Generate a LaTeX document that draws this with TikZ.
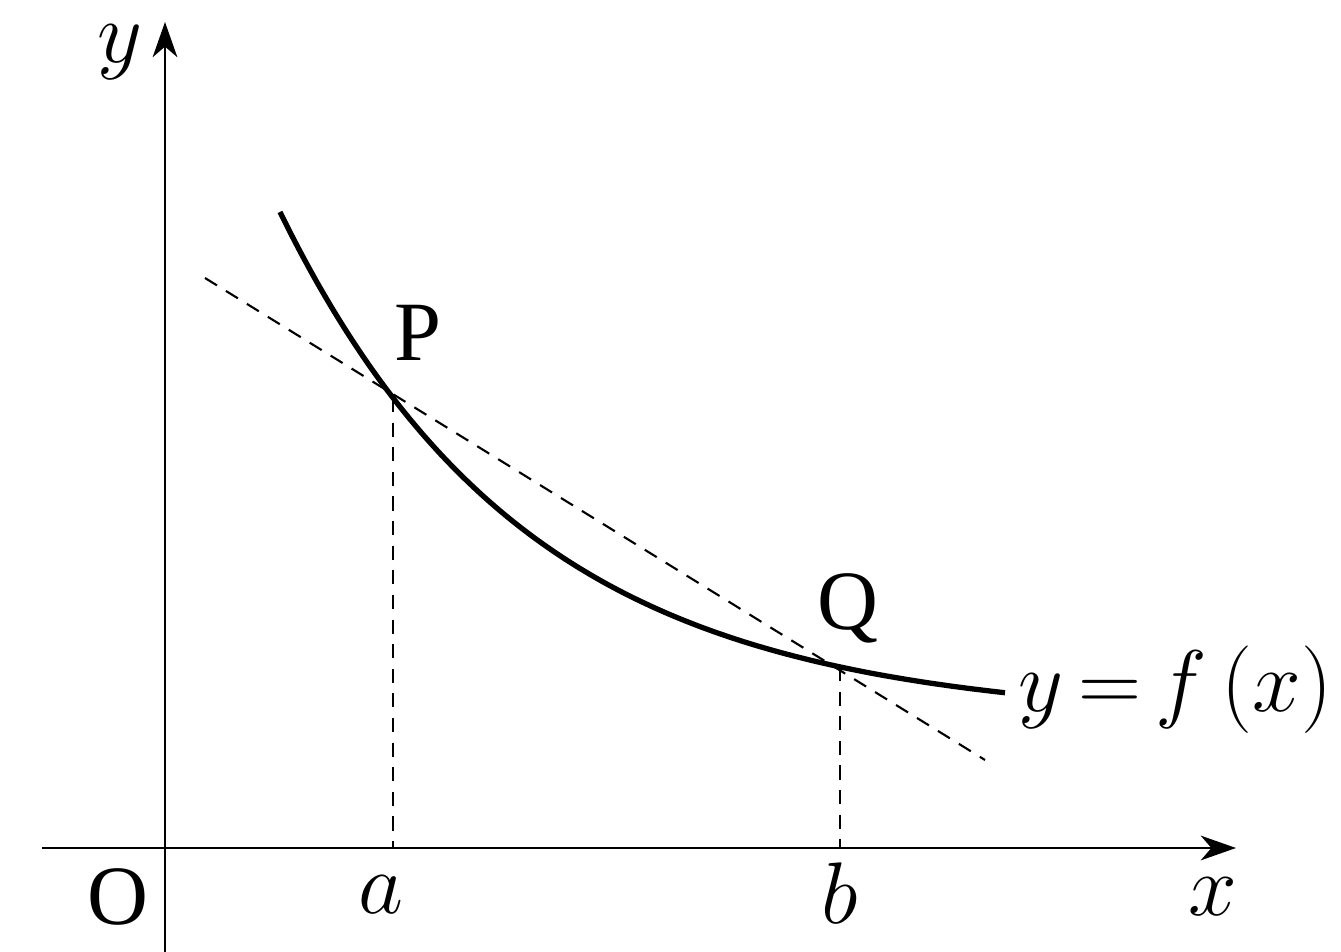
\documentclass[tikz,border=0pt]{standalone}
\usepackage{fontspec}
\setmainfont{Liberation Serif}
\usetikzlibrary{arrows.meta}
\begin{document}
\begin{tikzpicture}[x=0.01cm,y=-0.01cm,
  axis/.style={line width=0.7pt,-{Stealth[length=10pt,width=7pt,inset=3pt]}},
  curve/.style={line width=1.5pt},
  guide/.style={line width=0.6pt,dash pattern=on 4pt off 3pt},
  lbl/.style={inner sep=0pt,font=\fontsize{24}{28}\selectfont}]
\useasboundingbox (0,0) rectangle (1341,952);
% axes
\coordinate (xs) at (42,848);
\coordinate (xe) at (1236,848);
\coordinate (ys) at (165,952);
\coordinate (ye) at (165,22);
\draw[axis] (xs) -- (xe);
\draw[axis] (ys) -- (ye);
% points
\coordinate (P) at (393,398);
\coordinate (Q) at (840,667);
\coordinate (Pa) at (393,848);
\coordinate (Qb) at (840,848);
% curve
\draw[curve] plot[domain=280:1005,samples=120,smooth] (\x,{720-508*exp(-(\x-280)/248)});
% secant
\coordinate (s1) at (205,278);
\coordinate (s2) at (985,760);
\draw[guide] (s1) -- (s2);
\draw[guide] (P) -- (Pa);
\draw[guide] (Q) -- (Qb);
% labels
\node[lbl] (ly) at (120,52) {$y$};
\node[lbl] (lO) at (118,897) {O};
\node[lbl] (la) at (381,895) {$a$};
\node[lbl] (lb) at (840,893) {$b$};
\node[lbl] (lx) at (1213,897) {$x$};
\node[lbl] (lP) at (418,333) {P};
\node[lbl] (lQ) at (848,608) {Q};
\node[lbl,anchor=west] (lf) at (1018,690) {$y\,{=}\,f\,(x)$};
\end{tikzpicture}
\end{document}
